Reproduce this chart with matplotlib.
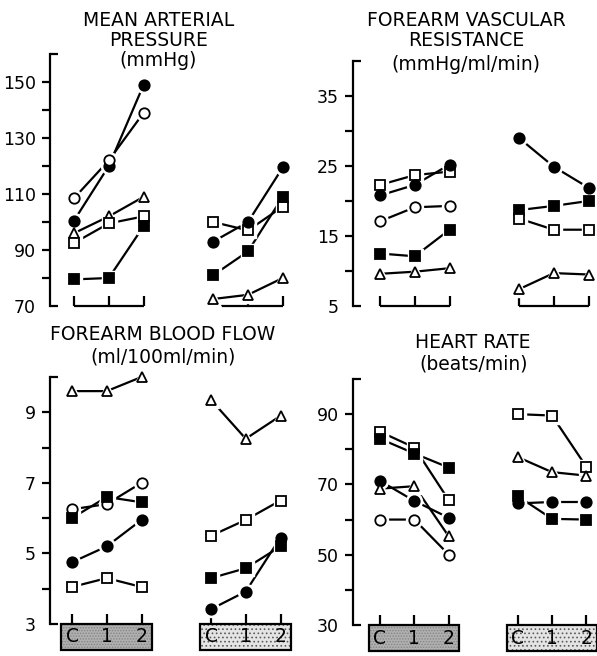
"""
Four-panel figure: MAP, forearm vascular resistance, forearm blood flow, heart rate
at C / 1 / 2 for two conditions (shaded box = group 1, stippled box = group 2).
"""
import matplotlib
matplotlib.use('Agg')
import matplotlib.pyplot as plt
from matplotlib.patches import Rectangle
from matplotlib.transforms import blended_transform_factory

plt.rcParams['font.family'] = ['DejaVu Sans']
plt.rcParams['hatch.linewidth'] = 0.7

# ---- data (C, 1, 2) -------------------------------------------------------
# keys: fc filled circle, oc open circle, ot open triangle, os open square, fs filled square
map_g1_keys = ['fc', 'oc', 'ot', 'os', 'fs']
map_g1 = [[100.5, 120, 149], [108.5, 122, 139], [96, 102, 109], [92.5, 99.5, 102], [79.5, 80, 98.5]]
map_g2_keys = ['os', 'fc', 'fs', 'ot']
map_g2 = [[100, 97, 105.5], [93, 100, 119.5], [81, 89.5, 109], [72.5, 74, 80]]

fvr_g1_keys = ['os', 'fc', 'oc', 'fs', 'ot']
fvr_g1 = [[22.3, 23.7, 24.2], [20.8, 22.3, 25.2], [17.1, 19.1, 19.3], [12.5, 12.1, 15.9], [9.6, 9.9, 10.4]]
fvr_g2_keys = ['fc', 'fs', 'os', 'ot']
fvr_g2 = [[29, 24.9, 21.9], [18.7, 19.3, 20], [17.5, 15.9, 15.9], [7.4, 9.7, 9.5]]

fbf_g1_keys = ['ot', 'oc', 'fs', 'fc', 'os']
fbf_g1 = [[9.6, 9.6, 10.0], [6.25, 6.4, 7.0], [6.0, 6.6, 6.45], [4.75, 5.2, 5.95], [4.05, 4.3, 4.05]]
fbf_g2_keys = ['ot', 'os', 'fs', 'fc']
fbf_g2 = [[9.35, 8.25, 8.9], [5.5, 5.95, 6.5], [4.3, 4.58, 5.2], [3.42, 3.92, 5.45]]

hr_g1_keys = ['os', 'fs', 'fc', 'ot', 'oc']
hr_g1 = [[85, 80.5, 65.5], [83, 78.8, 74.8], [71, 65.3, 60.5], [68.8, 69.5, 55.2], [60, 60, 50]]
hr_g2_keys = ['os', 'ot', 'fs', 'fc']
hr_g2 = [[90, 89.6, 75], [77.8, 73.5, 72.5], [66.7, 60.2, 60], [64.6, 65, 65]]

box_labels = ['C', '1', '2']

# ---- layout ---------------------------------------------------------------
W, H = 597, 656
fig = plt.figure(figsize=(W / 100, H / 100), dpi=100)

STYLE = {
    'fc': dict(marker='o', mfc='black', ms=7.5),
    'oc': dict(marker='o', mfc='white', ms=7.5),
    'ot': dict(marker='^', mfc='white', ms=7.5),
    'os': dict(marker='s', mfc='white', ms=6.8),
    'fs': dict(marker='s', mfc='black', ms=6.8),
}


def make_axes(left, right, top, bottom, x0, unit):
    ax = fig.add_axes([left / W, 1 - bottom / H, (right - left) / W, (bottom - top) / H])
    ax.set_xlim((left - x0) / unit, (right - x0) / unit)
    ax.patch.set_alpha(0)
    return ax


def draw_panel(ax, groups, ylim, major, minor, px_h, px_w, boxes):
    ymin, ymax = ylim
    ax.set_ylim(ymin, ymax)
    for spine in ['top', 'right', 'bottom']:
        ax.spines[spine].set_visible(False)
    ax.spines['left'].set_linewidth(1.6)
    ax.spines['left'].set_clip_on(False)
    ax.set_xticks([])
    ax.set_yticks(major)
    ax.set_yticklabels([str(v) for v in major])
    ax.set_yticks(minor, minor=True)
    ax.tick_params(axis='y', which='both', direction='out', length=6, width=1.6,
                   labelsize=12.5, pad=4)
    # bottom labelled tick has no outward tick; ends get inward stubs
    ax.yaxis.get_major_ticks()[0].tick1line.set_visible(False)
    stub = 8 / px_w
    for yy in (0, 1):
        ax.plot([0, stub], [yy, yy], color='black', lw=1.6, transform=ax.transAxes,
                clip_on=False, solid_capstyle='butt')

    for gx, series, keys in groups:
        xs = [gx, gx + 1, gx + 2]
        for vals, k in zip(series, keys):
            st = STYLE[k]
            ax.plot(xs, vals, '-', color='black', lw=1.6, zorder=2, clip_on=False)
            ax.plot(xs, vals, linestyle='none', marker=st['marker'], ms=st['ms'] + 4,
                    mfc='white', mec='white', zorder=3, clip_on=False)
            ax.plot(xs, vals, linestyle='none', marker=st['marker'], ms=st['ms'],
                    mfc=st['mfc'], mec='black', mew=1.3, zorder=4, clip_on=False)

    tick_h = (ymax - ymin) / px_h * 10
    tr = blended_transform_factory(ax.transData, ax.transAxes)
    for gi, (gx, _, _) in enumerate(groups):
        xs = [gx, gx + 1, gx + 2]
        ax.vlines(xs, ymin, ymin + tick_h, color='black', lw=1.6, clip_on=False)
        if not boxes:
            ax.plot([gx, gx + 2], [ymin, ymin], color='black', lw=1.6, clip_on=False,
                    solid_capstyle='butt')
        else:
            bh = 26 / px_h
            if gi == 0:
                fc, hatch, hc = '#b0b0b0', '......', '#858585'
            else:
                fc, hatch, hc = '#e4e4e4', '....', '#5a5a5a'
            ax.add_patch(Rectangle((gx - 0.32, -bh), 2.62, bh, transform=tr, facecolor=fc,
                                   hatch=hatch, edgecolor=hc, lw=0, clip_on=False))
            ax.add_patch(Rectangle((gx - 0.32, -bh), 2.62, bh, transform=tr, facecolor='none',
                                   edgecolor='black', lw=1.6, clip_on=False))
            for x, lab in zip(xs, box_labels):
                ax.text(x, -bh / 2, lab, transform=tr, ha='center', va='center',
                        fontsize=13.5, clip_on=False)


def title(lines):
    for text, x, y in lines:
        fig.text(x / W, 1 - y / H, text, ha='center', va='center', fontsize=13.5)


# top-left: mean arterial pressure
ax1 = make_axes(50, 300, 54, 306, 74, 34.8)
draw_panel(ax1, [(0, map_g1, map_g1_keys), (4, map_g2, map_g2_keys)], (70, 160),
           [70, 90, 110, 130, 150], [80, 100, 120, 140], 252, 250, False)
title([('MEAN ARTERIAL', 159, 20), ('PRESSURE', 159, 40), ('(mmHg)', 158, 61)])

# top-right: forearm vascular resistance
ax2 = make_axes(353, 597, 61, 306, 380, 34.75)
draw_panel(ax2, [(0, fvr_g1, fvr_g1_keys), (4, fvr_g2, fvr_g2_keys)], (5, 40),
           [5, 15, 25, 35], [10, 20, 30], 245, 244, False)
title([('FOREARM VASCULAR', 466, 21), ('RESISTANCE', 466, 41), ('(mmHg/ml/min)', 466, 64)])

# bottom-left: forearm blood flow
ax3 = make_axes(50, 300, 377, 624, 72, 34.75)
draw_panel(ax3, [(0, fbf_g1, fbf_g1_keys), (4, fbf_g2, fbf_g2_keys)], (3, 10),
           [3, 5, 7, 9], [4, 6, 8], 247, 250, True)
title([('FOREARM BLOOD FLOW', 163, 335), ('(ml/100ml/min)', 163, 357)])

# bottom-right: heart rate
ax4 = make_axes(353, 597, 379, 625, 380, 34.4)
draw_panel(ax4, [(0, hr_g1, hr_g1_keys), (4, hr_g2, hr_g2_keys)], (30, 100),
           [30, 50, 70, 90], [40, 60, 80], 246, 244, True)
title([('HEART RATE', 473, 342), ('(beats/min)', 474, 364)])

fig.savefig('out.png', dpi=100)
